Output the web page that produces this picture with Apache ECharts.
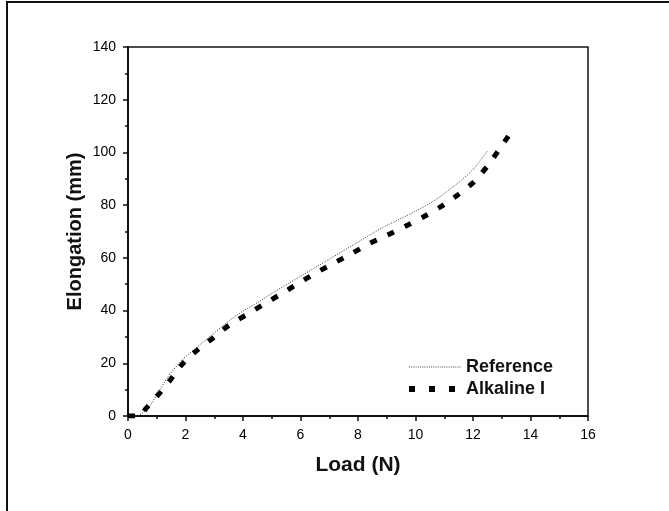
<!DOCTYPE html>
<html>
<head>
<meta charset="utf-8">
<script src="https://cdn.jsdelivr.net/npm/echarts@6/dist/echarts.min.js"></script>
<style>
    html, body { margin: 0; padding: 0; background: #fff; }
    #chart { width: 669px; height: 511px; }
    #frame {
        position: absolute; left: 6px; top: 1px; width: 680px; height: 520px;
        border-left: 2px solid #111; border-top: 2px solid #111;
    }
</style>
</head>
<body>
<div id="frame"></div>
<div id="chart"></div>
<script>
// valores
const refLoad  = [0, 0.3, 0.7, 1.0, 1.4, 1.9, 2.5, 3.0, 3.5, 4.0, 4.5, 5.0, 6.0, 7.0, 8.0, 8.5, 9.0, 10.0, 10.7, 11.5, 12.0, 12.5];
const refElong = [0, 0, 3, 8, 15, 21.5, 27, 31.5, 36, 39.8, 43, 46.5, 53, 59.5, 66, 69.3, 72.3, 77.7, 82, 88.6, 93.5, 100.5];

const alkLoad  = [0, 0.45, 0.6, 1.04, 1.48, 1.89, 2.39, 2.97, 3.52, 4.1, 4.71, 5.31, 5.92, 6.54, 7.16, 7.78, 8.39, 9.0, 9.63, 10.25, 10.85, 11.49, 12.01, 12.48, 12.88, 13.23];
const alkElong = [0, 0, 2.5, 7.9, 13.8, 19.7, 24.8, 29.7, 34.5, 38.3, 42.3, 46.2, 50.3, 54.3, 58, 61.6, 65.4, 68.5, 71.9, 75.4, 79.2, 84, 88.6, 94.5, 100.6, 106.2];

const nomes = ['Reference', 'Alkaline I'];

const pares = (xs, ys) => xs.map((x, i) => [x, ys[i]]);

const fonte = 'Liberation Sans, Arial, sans-serif';

const myChart = echarts.init(document.getElementById('chart'), null, { renderer: 'canvas' });

const option = {
    backgroundColor: 'transparent',
    animation: false,
    grid: {
        left: 128, right: 81, top: 47, bottom: 95,
        show: true, borderColor: '#111', borderWidth: 1.5,
        containLabel: false
    },
    legend: {
        orient: 'vertical',
        left: 401, top: 353,
        itemWidth: 52, itemHeight: 10, itemGap: 4,
        itemStyle: { opacity: 0 },
        textStyle: { fontFamily: fonte, fontWeight: 'bold', fontSize: 18, color: '#111' },
        data: [
            { name: nomes[0], lineStyle: { width: 1, type: [1, 1.2], color: '#444' } },
            { name: nomes[1], lineStyle: { width: 6, type: [6, 14], color: '#000' } }
        ]
    },
    xAxis: {
        type: 'value', min: 0, max: 16, interval: 2,
        name: 'Load (N)', nameLocation: 'middle', nameGap: 39, nameMoveOverlap: false,
        nameTextStyle: { fontFamily: fonte, fontWeight: 'bold', fontSize: 21, color: '#111' },
        axisLine: { lineStyle: { color: '#111', width: 2 } },
        axisTick: { inside: false, length: 5, lineStyle: { width: 1.5, color: '#111' } },
        minorTick: { show: true, splitNumber: 2, length: 3, lineStyle: { width: 1.5, color: '#111' } },
        axisLabel: { fontFamily: fonte, fontSize: 14, color: '#000', margin: 12 },
        splitLine: { show: false }
    },
    yAxis: {
        type: 'value', min: 0, max: 140, interval: 20,
        name: 'Elongation (mm)', nameLocation: 'middle', nameGap: 43, nameMoveOverlap: false,
        nameTextStyle: { fontFamily: fonte, fontWeight: 'bold', fontSize: 20, color: '#111' },
        axisLine: { lineStyle: { color: '#111', width: 2 } },
        axisTick: { inside: false, length: 5, lineStyle: { width: 1.5, color: '#111' } },
        minorTick: { show: true, splitNumber: 2, length: 3, lineStyle: { width: 1.5, color: '#111' } },
        axisLabel: { fontFamily: fonte, fontSize: 14, color: '#000', margin: 12 },
        splitLine: { show: false }
    },
    series: [
        {
            name: nomes[0],
            type: 'line',
            smooth: 0.25,
            symbol: 'none',
            lineStyle: { color: '#333', width: 1, type: [1, 1.5] },
            itemStyle: { color: '#333' },
            data: pares(refLoad, refElong)
        },
        {
            name: nomes[1],
            type: 'line',
            smooth: 0.25,
            symbol: 'none',
            lineStyle: { color: '#000', width: 5, type: [7, 12] },
            itemStyle: { color: '#000' },
            data: pares(alkLoad, alkElong)
        }
    ]
};

myChart.setOption(option);
</script>
</body>
</html>
